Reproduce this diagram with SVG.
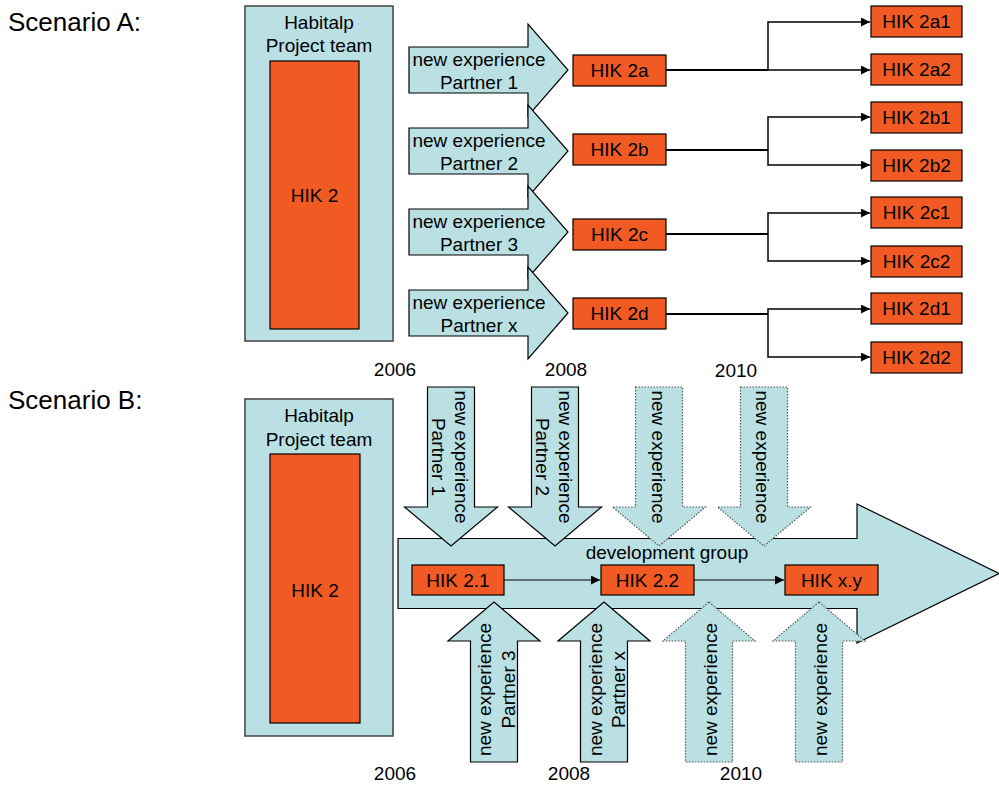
<svg xmlns="http://www.w3.org/2000/svg" width="999" height="785" viewBox="0 0 999 785">
<defs>
<style>
text{font-family:"Liberation Sans",Arial,sans-serif;font-size:19px;fill:#000}
.lbl{font-size:26px}
.c{text-anchor:middle}
.team{fill:#BBE0E3;stroke:#404040;stroke-width:1.5}
.hik{fill:#F15A22;stroke:#000;stroke-width:1.2}
.arr{fill:#BBE0E3;stroke:#000;stroke-width:1.2}
.dot{fill:#BBE0E3;stroke:#555;stroke-width:1.2;stroke-dasharray:1.5 1.5}
.main{fill:none;stroke:#000;stroke-width:2}
.br{fill:none;stroke:#000;stroke-width:1.5}
.thin{fill:none;stroke:#000;stroke-width:1}
</style>
<marker id="ah" viewBox="0 0 10 10" refX="10" refY="5" markerWidth="6" markerHeight="6" orient="auto" markerUnits="strokeWidth">
<path d="M0,0 L10,5 L0,10 Z" fill="#000"/>
</marker>
<marker id="ah2" viewBox="0 0 10 10" refX="10" refY="5" markerWidth="9" markerHeight="9" orient="auto" markerUnits="strokeWidth">
<path d="M0,0 L10,5 L0,10 Z" fill="#000"/>
</marker>
</defs>
<rect width="999" height="785" fill="#fff"/>

<text class="lbl" x="8" y="31">Scenario A:</text>
<text class="lbl" x="8" y="409">Scenario B:</text>

<!-- Scenario A -->
<g id="a-team">
<rect class="team" x="245" y="6" width="148" height="335"/>
<text class="c" x="319" y="29">Habitalp</text>
<text class="c" x="319" y="52">Project team</text>
<rect class="hik" x="270" y="61" width="89" height="268"/>
<text class="c" x="314.5" y="202">HIK 2</text>
</g>

<g id="a-exp1">
<path class="arr" d="M409,47 H528 V24 L568,70 L528,116 V93 H409 Z"/>
<text class="c" x="479" y="66">new experience</text>
<text class="c" x="479" y="89">Partner 1</text>
</g>
<g id="a-exp2">
<path class="arr" d="M409,128 H528 V105 L568,151 L528,197 V174 H409 Z"/>
<text class="c" x="479" y="147">new experience</text>
<text class="c" x="479" y="170">Partner 2</text>
</g>
<g id="a-exp3">
<path class="arr" d="M409,209 H528 V186 L568,232 L528,278 V255 H409 Z"/>
<text class="c" x="479" y="228">new experience</text>
<text class="c" x="479" y="251">Partner 3</text>
</g>
<g id="a-exp4">
<path class="arr" d="M409,290 H528 V267 L568,313 L528,359 V336 H409 Z"/>
<text class="c" x="479" y="309">new experience</text>
<text class="c" x="479" y="332">Partner x</text>
</g>

<g id="hik2a"><rect class="hik" x="573" y="55" width="93" height="31"/><text class="c" x="619.5" y="77">HIK 2a</text></g>
<g id="hik2b"><rect class="hik" x="573" y="134" width="93" height="31"/><text class="c" x="619.5" y="156">HIK 2b</text></g>
<g id="hik2c"><rect class="hik" x="573" y="219" width="93" height="31"/><text class="c" x="619.5" y="241">HIK 2c</text></g>
<g id="hik2d"><rect class="hik" x="573" y="298" width="93" height="31"/><text class="c" x="619.5" y="320">HIK 2d</text></g>

<g id="hik2a1"><rect class="hik" x="871" y="6" width="91" height="31"/><text class="c" x="916.5" y="28">HIK 2a1</text></g>
<g id="hik2a2"><rect class="hik" x="871" y="54" width="91" height="31"/><text class="c" x="916.5" y="76">HIK 2a2</text></g>
<g id="hik2b1"><rect class="hik" x="871" y="102" width="91" height="31"/><text class="c" x="916.5" y="124">HIK 2b1</text></g>
<g id="hik2b2"><rect class="hik" x="871" y="150" width="91" height="31"/><text class="c" x="916.5" y="172">HIK 2b2</text></g>
<g id="hik2c1"><rect class="hik" x="871" y="197" width="91" height="31"/><text class="c" x="916.5" y="219">HIK 2c1</text></g>
<g id="hik2c2"><rect class="hik" x="871" y="246" width="91" height="31"/><text class="c" x="916.5" y="268">HIK 2c2</text></g>
<g id="hik2d1"><rect class="hik" x="871" y="293" width="91" height="31"/><text class="c" x="916.5" y="315">HIK 2d1</text></g>
<g id="hik2d2"><rect class="hik" x="871" y="342" width="91" height="31"/><text class="c" x="916.5" y="364">HIK 2d2</text></g>

<g id="connectors-a">
<path class="main" d="M666,70 H768"/>
<path class="br" d="M768,70 H870" marker-end="url(#ah)"/>
<path class="br" d="M768,70 V22 H870" marker-end="url(#ah)"/>
<path class="main" d="M666,150 H768"/>
<path class="br" d="M768,150 V117 H870" marker-end="url(#ah)"/>
<path class="br" d="M768,150 V165 H870" marker-end="url(#ah)"/>
<path class="main" d="M666,234 H768"/>
<path class="br" d="M768,234 V213 H870" marker-end="url(#ah)"/>
<path class="br" d="M768,234 V261 H870" marker-end="url(#ah)"/>
<path class="main" d="M666,314 H768"/>
<path class="br" d="M768,314 V309 H870" marker-end="url(#ah)"/>
<path class="br" d="M768,314 V357 H870" marker-end="url(#ah)"/>
</g>

<text class="c" x="395" y="376">2006</text>
<text class="c" x="566" y="376">2008</text>
<text class="c" x="736" y="377">2010</text>

<!-- Scenario B -->
<g id="b-team">
<rect class="team" x="245" y="399" width="148" height="337"/>
<text class="c" x="319" y="422">Habitalp</text>
<text class="c" x="319" y="446">Project team</text>
<rect class="hik" x="270" y="454" width="90" height="269"/>
<text class="c" x="315" y="597">HIK 2</text>
</g>

<g id="dev-group">
<path class="arr" d="M398,538.5 H857 V504 L999,573.5 L857,643 V608.5 H398 Z"/>
<text class="c" x="667" y="559">development group</text>
</g>

<g id="b-down1">
<path class="arr" d="M427.5,387 H474.5 V507 H497.5 L451,546 L404.5,507 H427.5 Z"/>
<text class="c" transform="translate(455,457) rotate(90)">new experience</text>
<text class="c" transform="translate(432,457) rotate(90)">Partner 1</text>
</g>
<g id="b-down2">
<path class="arr" d="M531.5,387 H578.5 V507 H601.5 L555,546 L508.5,507 H531.5 Z"/>
<text class="c" transform="translate(559,457) rotate(90)">new experience</text>
<text class="c" transform="translate(536,457) rotate(90)">Partner 2</text>
</g>
<g id="b-down3">
<path class="dot" d="M635.5,387 H682.5 V507 H705.5 L659,546 L612.5,507 H635.5 Z"/>
<text class="c" transform="translate(651.5,457) rotate(90)">new experience</text>
</g>
<g id="b-down4">
<path class="dot" d="M740.5,387 H787.5 V507 H810.5 L764,546 L717.5,507 H740.5 Z"/>
<text class="c" transform="translate(756,457) rotate(90)">new experience</text>
</g>

<g id="b-up1">
<path class="arr" d="M494,602 L540,641 H517.5 V762 H470.5 V641 H448 Z"/>
<text class="c" transform="translate(491,689.5) rotate(-90)">new experience</text>
<text class="c" transform="translate(515,689.5) rotate(-90)">Partner 3</text>
</g>
<g id="b-up2">
<path class="arr" d="M604,602 L650,641 H627.5 V762 H580.5 V641 H558 Z"/>
<text class="c" transform="translate(602,689.5) rotate(-90)">new experience</text>
<text class="c" transform="translate(625,689.5) rotate(-90)">Partner x</text>
</g>
<g id="b-up3">
<path class="dot" d="M709,602 L755,641 H732.5 V762 H685.5 V641 H663 Z"/>
<text class="c" transform="translate(717,689.5) rotate(-90)">new experience</text>
</g>
<g id="b-up4">
<path class="dot" d="M819,602 L865,641 H842.5 V762 H795.5 V641 H773 Z"/>
<text class="c" transform="translate(827,689.5) rotate(-90)">new experience</text>
</g>

<g id="hik21"><rect class="hik" x="412" y="565" width="92" height="30"/><text class="c" x="458" y="587">HIK 2.1</text></g>
<g id="hik22"><rect class="hik" x="601" y="565" width="93" height="30"/><text class="c" x="647.5" y="587">HIK 2.2</text></g>
<g id="hikxy"><rect class="hik" x="785" y="565" width="93" height="30"/><text class="c" x="831.5" y="587">HIK x.y</text></g>

<g id="connectors-b">
<path class="thin" d="M504,580 H600" marker-end="url(#ah2)"/>
<path class="thin" d="M694,580 H784" marker-end="url(#ah2)"/>
</g>

<text class="c" x="395" y="780">2006</text>
<text class="c" x="569" y="780">2008</text>
<text class="c" x="741" y="780">2010</text>
</svg>
